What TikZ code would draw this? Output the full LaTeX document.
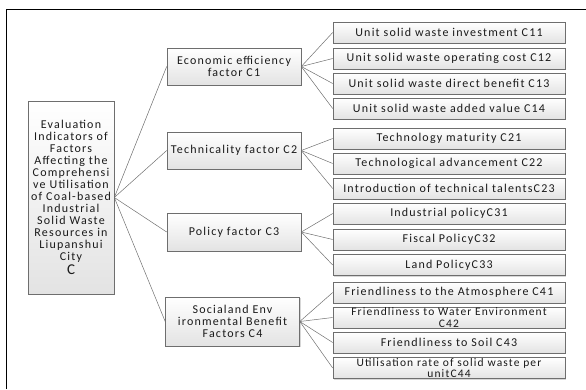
\documentclass[tikz,border=0pt]{standalone}
\usepackage{fontspec}
\setmainfont{Carlito}[LetterSpace=10]
\usetikzlibrary{shadows}
\definecolor{ink}{HTML}{1A1A1A}
\definecolor{edge}{HTML}{6E6E6E}
\definecolor{link}{HTML}{707070}

\begin{document}
\begin{tikzpicture}[x=1pt,y=-1pt,
  font=\fontsize{12}{12}\selectfont, text=ink,
  box/.style={draw=edge, line width=0.6pt, top color=white, bottom color=gray!22,
              align=center, inner sep=1pt,
              drop shadow={shadow xshift=1.2pt, shadow yshift=-1.2pt, fill=gray!45, opacity=0.7}},
  fbox/.style={box, minimum width=134pt},
  ibox/.style={box, minimum width=232pt, minimum height=21pt},
  tight/.style={font=\fontsize{11.5}{11.3}\selectfont, inner sep=0pt},
  link/.style={draw=link, line width=0.5pt}]

\path[use as bounding box] (0,0) rectangle (586,389);

% ------------------------------------------------------------------ frame
\draw[line width=1.6pt, black] (6.5,389) -- (6.5,9.5) -- (586,9.5);

% ------------------------------------------------------------------ root
\node[box, minimum width=86pt, minimum height=193pt, inner sep=0pt] (root) at (71,197.5)
  {Evaluation\\Indicators of\\Factors\\Affecting the\\Comprehensi\\ve Utilisation\\
   of Coal-based\\Industrial\\Solid Waste\\Resources in\\Liupanshui\\City\\[2pt]
   {\fontsize{15}{14}\selectfont C}};

% ------------------------------------------------------------------ factors
\node[fbox, minimum height=37pt] (c1) at (234,66.5) {Economic efficiency\\factor C1};
\node[fbox, minimum height=37pt] (c2) at (234,150.5) {Technicality factor C2};
\node[fbox, minimum height=38pt] (c3) at (234,232) {Policy factor C3};
\node[fbox, minimum height=49pt] (c4) at (232.5,321.5)
  {Socialand Env\\ironmental Benefit\\Factors C4};

% ------------------------------------------------------------------ indicators
\node[ibox] (c11) at (449,32.5)  {Unit solid waste investment C11};
\node[ibox] (c12) at (449,58.5)  {Unit solid waste operating cost C12};
\node[ibox] (c13) at (449,83.5)  {Unit solid waste direct benefit C13};
\node[ibox] (c14) at (449,108.5) {Unit solid waste added value C14};
\node[ibox] (c21) at (449,138.5) {Technology maturity C21};
\node[ibox] (c22) at (449,163.5) {Technological advancement C22};
\node[ibox] (c23) at (449,188.5) {Introduction of technical talentsC23};
\node[ibox] (c31) at (449,213.5) {Industrial policyC31};
\node[ibox] (c32) at (449,239.5) {Fiscal PolicyC32};
\node[ibox] (c33) at (449,265)   {Land PolicyC33};
\node[ibox] (c41) at (449,292.5) {Friendliness to the Atmosphere C41};
\node[ibox, tight] (c42) at (449,317.5) {Friendliness to Water Environment\\C42};
\node[ibox] (c43) at (449,342.5) {Friendliness to Soil C43};
\node[ibox, tight] (c44) at (449,368) {Utilisation rate of solid waste per\\unitC44};

% ------------------------------------------------------------------ links
\foreach \f in {1,...,4} {\draw[link] (root.east) -- (c\f.west);}
\foreach \i in {1,...,4} {\draw[link] (c1.east) -- (c1\i.west);}
\foreach \i in {1,...,3} {\draw[link] (c2.east) -- (c2\i.west);}
\foreach \i in {1,...,3} {\draw[link] (c3.east) -- (c3\i.west);}
\foreach \i in {1,...,4} {\draw[link] (c4.east) -- (c4\i.west);}
\end{tikzpicture}
\end{document}
